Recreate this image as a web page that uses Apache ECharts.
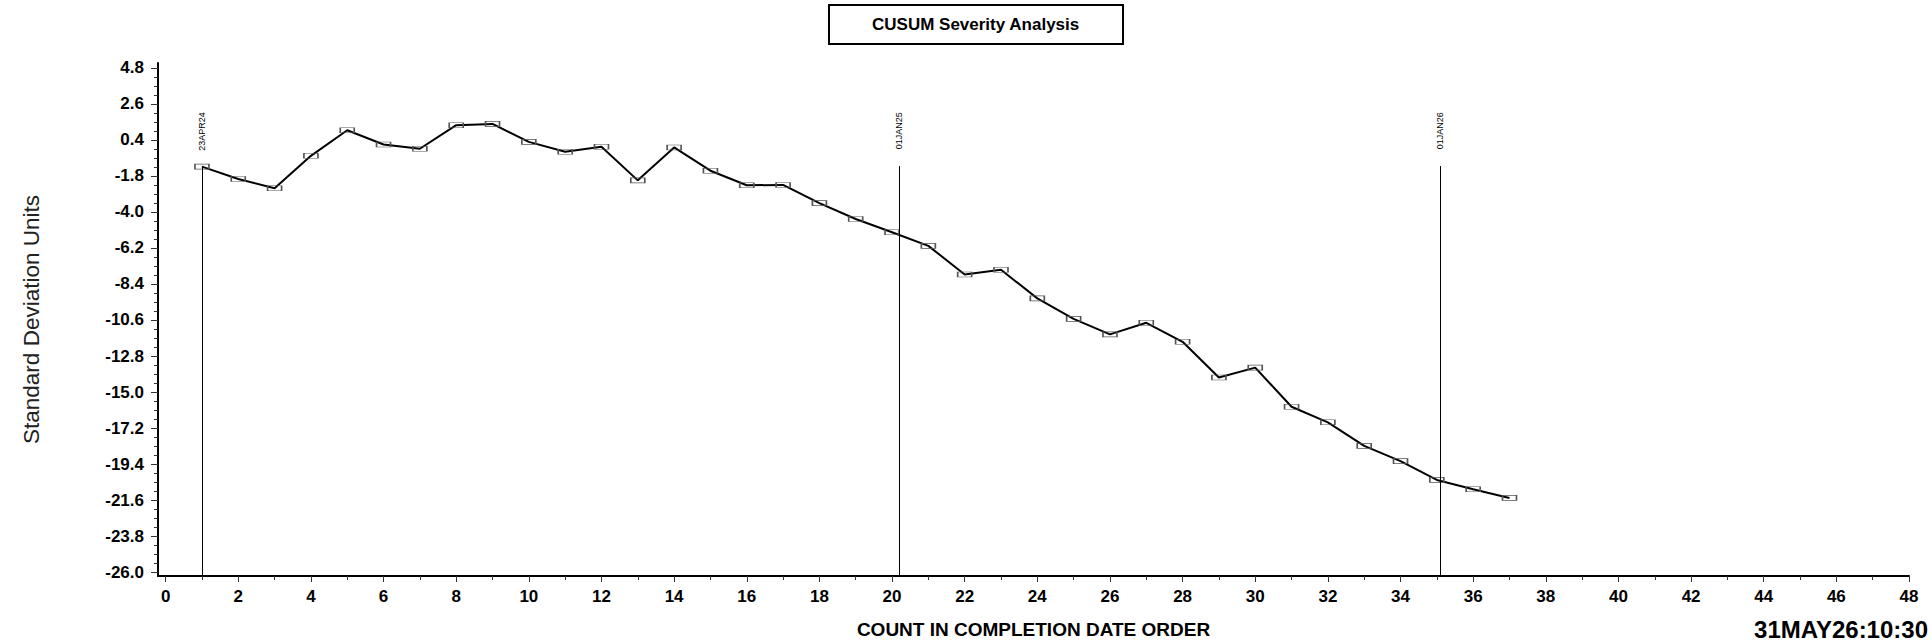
<!DOCTYPE html>
<html>
<head>
<meta charset="utf-8">
<script src="https://cdn.jsdelivr.net/npm/echarts@6/dist/echarts.min.js"></script>
<style>
html,body{margin:0;padding:0;background:#fff;}
#chart{width:1931px;height:644px;}
</style>
</head>
<body>
<div id="chart"></div>
<script>
// ---- data ----
const counts = [1,2,3,4,5,6,7,8,9,10,11,12,13,14,15,16,17,18,19,20,21,22,23,24,25,26,27,28,29,30,31,32,33,34,35,36,37];
const cusum = [-1.23,-1.99,-2.55,-0.57,0.99,0.12,-0.14,1.30,1.38,0.28,-0.32,-0.02,-2.07,-0.06,-1.48,-2.37,-2.35,-3.46,-4.43,-5.24,-6.07,-7.82,-7.53,-9.28,-10.53,-11.48,-10.77,-11.93,-14.11,-13.51,-15.90,-16.85,-18.29,-19.22,-20.37,-20.94,-21.47];
const refX = [1, 20.2, 35.1];
const refLabels = ['23APR24', '01JAN25', '01JAN26'];
const refTop = -1.2;
const xTicks = [0,2,4,6,8,10,12,14,16,18,20,22,24,26,28,30,32,34,36,38,40,42,44,46,48];
const yTicks = [-26.0,-23.8,-21.6,-19.4,-17.2,-15.0,-12.8,-10.6,-8.4,-6.2,-4.0,-1.8,0.4,2.6,4.8];
const titleText = 'CUSUM Severity Analysis';
const xName = 'COUNT IN COMPLETION DATE ORDER';
const yName = 'Standard Deviation Units';
const stamp = '31MAY26:10:30';

// ---- derived ----
const X_MIN = -0.21, X_MAX = 48, Y_MIN = -26.24, Y_MAX = 5.1;
const xMinor = [];
for (let i = 0; i < xTicks.length - 1; i++) xMinor.push((xTicks[i] + xTicks[i+1]) / 2);
const yMinor = [];
for (let i = 0; i < yTicks.length - 1; i++) {
  const a = yTicks[i], b = yTicks[i+1];
  for (let k = 1; k < 4; k++) yMinor.push(+(a + (b - a) * k / 4).toFixed(3));
}
const lineData = counts.map((c, i) => [c, cusum[i]]);
const markData = refX.map((x, i) => [
  { coord: [x, Y_MIN], name: refLabels[i] },
  { coord: [x, refTop] }
]);

const FONT = "'Liberation Sans', Arial, sans-serif";

const chart = echarts.init(document.getElementById('chart'), null, { renderer: 'svg' });
chart.setOption({
  animation: false,
  backgroundColor: '#fff',
  title: [{
    text: titleText,
    left: 829, top: 5,
    padding: [11, 43, 11, 43],
    borderColor: '#000', borderWidth: 2,
    textStyle: { fontFamily: FONT, fontSize: 17, fontWeight: 'bold', color: '#000' }
  }, {
    text: stamp,
    right: 3, top: 617, padding: 0,
    textStyle: { fontFamily: FONT, fontSize: 24, lineHeight: 24, fontWeight: 'bold', color: '#000' }
  }],
  grid: { left: 158, right: 22, top: 63, bottom: 65, containLabel: false },
  xAxis: [{
    type: 'value', min: X_MIN, max: X_MAX,
    axisLine: { show: true, onZero: false, lineStyle: { color: '#000', width: 2 } },
    axisTick: { show: true, length: 6, customValues: xTicks, lineStyle: { color: '#333', width: 1 } },
    axisLabel: { customValues: xTicks, fontFamily: FONT, fontSize: 17, fontWeight: 'bold', color: '#000', margin: 12 },
    splitLine: { show: false },
    name: xName, nameLocation: 'middle', nameGap: 44,
    nameTextStyle: { fontFamily: FONT, fontSize: 19, fontWeight: 'bold', color: '#000' }
  }, {
    type: 'value', min: X_MIN, max: X_MAX, position: 'bottom',
    axisLine: { show: false, onZero: false },
    axisTick: { show: true, length: 4, customValues: xMinor, lineStyle: { color: '#333', width: 1 } },
    axisLabel: { show: false },
    splitLine: { show: false }
  }],
  yAxis: [{
    type: 'value', min: Y_MIN, max: Y_MAX, position: 'left',
    axisLine: { show: true, onZero: false, lineStyle: { color: '#000', width: 2 } },
    axisTick: { show: true, length: 7, customValues: yTicks, lineStyle: { color: '#333', width: 1 } },
    axisLabel: { customValues: yTicks, formatter: v => v.toFixed(1), fontFamily: FONT, fontSize: 17, fontWeight: 'bold', color: '#000', margin: 14 },
    splitLine: { show: false },
    name: yName, nameLocation: 'middle', nameGap: 115,
    nameTextStyle: { fontFamily: FONT, fontSize: 22.5, color: '#222' }
  }, {
    type: 'value', min: Y_MIN, max: Y_MAX, position: 'left',
    axisLine: { show: false, onZero: false },
    axisTick: { show: true, length: 4, customValues: yMinor, lineStyle: { color: '#333', width: 1 } },
    axisLabel: { show: false },
    splitLine: { show: false }
  }],
  series: [{
    type: 'line',
    xAxisIndex: 0, yAxisIndex: 0,
    data: lineData,
    symbol: 'rect', symbolSize: [14, 5],
    itemStyle: { color: 'rgba(255,255,255,0)', borderColor: '#555', borderWidth: 1 },
    lineStyle: { color: '#000', width: 2 },
    z: 3,
    markLine: {
      silent: true, symbol: 'none', animation: false,
      lineStyle: { color: '#000', width: 1, type: 'solid' },
      label: {
        show: true, position: 'insideEnd', distance: [-54, 0],
        formatter: '{b}', fontFamily: FONT, fontSize: 9, color: '#000'
      },
      data: markData
    }
  }]
});
</script>
</body>
</html>
